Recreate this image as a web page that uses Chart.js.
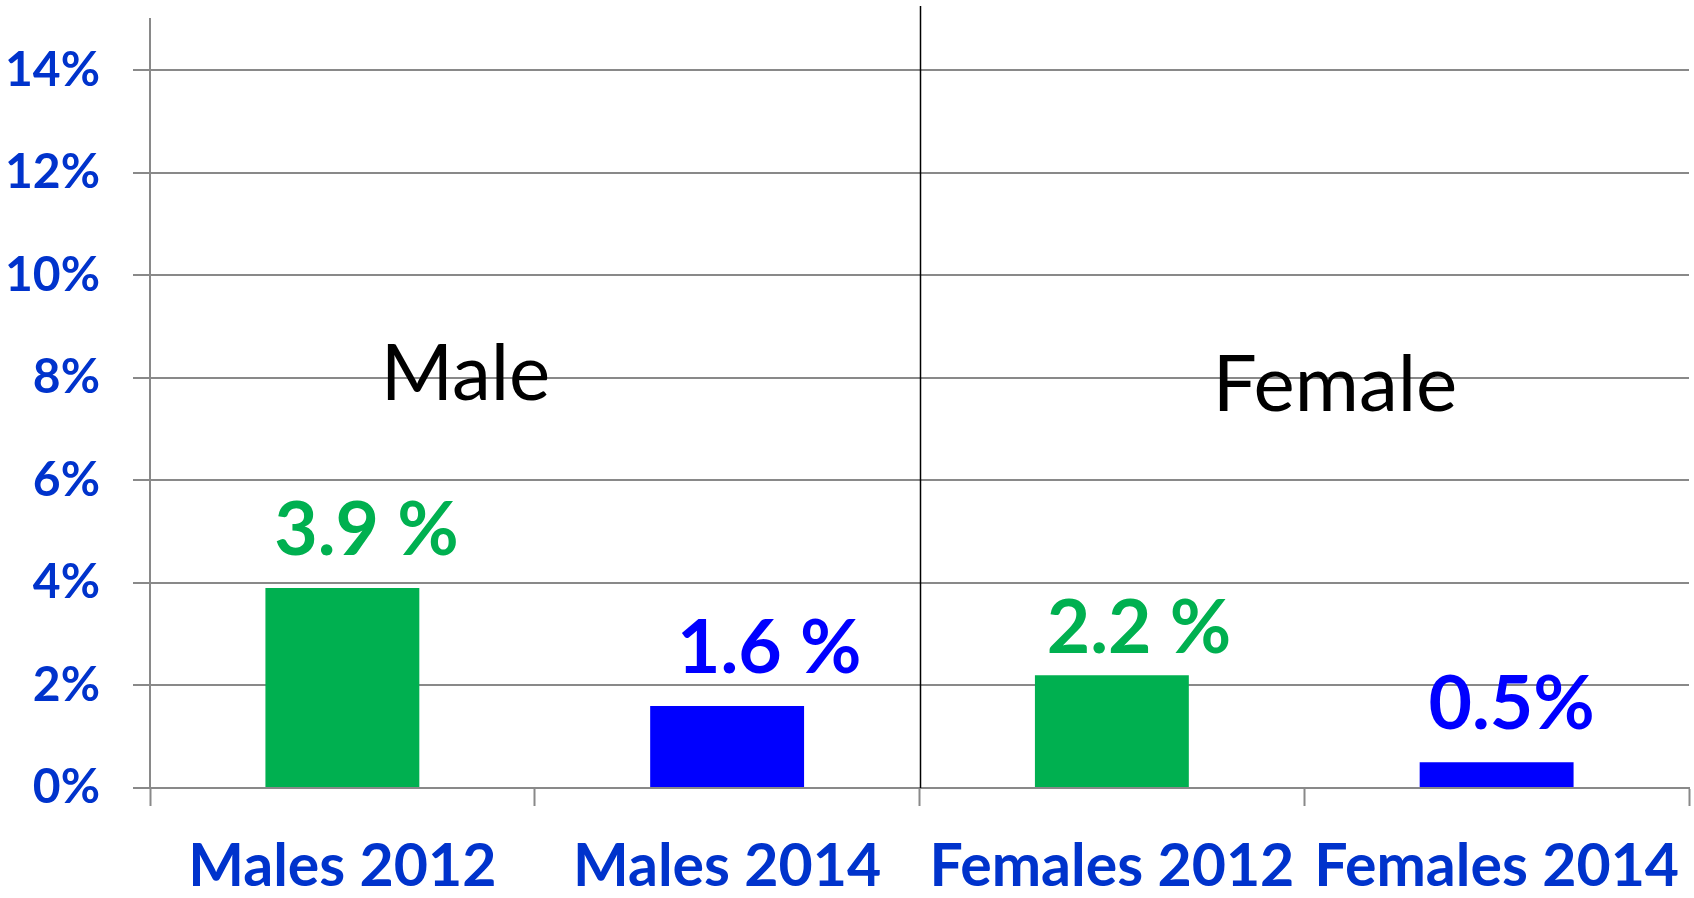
<!DOCTYPE html>
<html>
<head>
<meta charset="utf-8">
<title>Male / Female 2012 vs 2014</title>
<script src="https://cdn.jsdelivr.net/npm/chart.js@4.4.1/dist/chart.umd.min.js"></script>
<style>
  html, body { margin: 0; padding: 0; background: #fff; }
  canvas { display: block; }
</style>
</head>
<body>
<canvas id="group-chart" width="1694" height="898"></canvas>
<script>
const categories = ["Males 2012", "Males 2014", "Females 2012", "Females 2014"];
const values = [3.9, 1.6, 2.2, 0.5];
const valueLabels = ["3.9 %", "1.6 %", "2.2 %", "0.5%"];
const barColors = ["#00B050", "#0000FF", "#00B050", "#0000FF"];
const yTicks = [0, 2, 4, 6, 8, 10, 12, 14];
const groupNames = ["Male", "Female"];

const tickBlue = "#0033CC";
const gridGrey = "#898989";

// small nudges for the value labels, [dx, gap above bar]
const labelShift = [[24, 33], [42, 33], [27, 22], [15, 33]];
// where the group names sit, in data units [category index, value]
const groupSpots = [[0.32, 7.57], [2.58, 7.36]];

const extrasPlugin = {
  id: "extras",
  afterDatasetsDraw(chart) {
    const ctx = chart.ctx;
    const x = chart.scales.x;
    const y = chart.scales.y;
    const bars = chart.getDatasetMeta(0).data;

    ctx.save();

    // divider between the two groups
    const divX = (x.getPixelForValue(1) + x.getPixelForValue(2)) / 2;
    ctx.strokeStyle = "#000";
    ctx.lineWidth = 1.5;
    ctx.beginPath();
    ctx.moveTo(Math.round(divX) + 0.5, 6);
    ctx.lineTo(Math.round(divX) + 0.5, y.getPixelForValue(0));
    ctx.stroke();

    // value labels above bars
    ctx.font = "bold 75px Lato";
    ctx.textAlign = "center";
    ctx.textBaseline = "alphabetic";
    bars.forEach((bar, i) => {
      ctx.fillStyle = barColors[i];
      ctx.fillText(valueLabels[i], bar.x + labelShift[i][0], bar.y - labelShift[i][1]);
    });

    // group names
    ctx.font = "78px Lato";
    ctx.fillStyle = "#000";
    groupNames.forEach((name, i) => {
      const px = x.getPixelForValue(groupSpots[i][0]);
      const py = y.getPixelForValue(groupSpots[i][1]);
      ctx.fillText(name, px, py);
    });

    ctx.restore();
  }
};

const ctx = document.getElementById("group-chart").getContext("2d");

new Chart(ctx, {
  type: "bar",
  data: {
    labels: categories,
    datasets: [{
      data: values,
      backgroundColor: barColors,
      borderWidth: 0,
      barPercentage: 0.4,
      categoryPercentage: 1.0,
    }],
  },
  options: {
    responsive: false,
    animation: false,
    layout: { padding: { top: 19, right: 5, left: 4, bottom: 0 } },
    plugins: {
      legend: { display: false },
      tooltip: { enabled: false },
    },
    scales: {
      x: {
        grid: {
          offset: true,
          drawOnChartArea: false,
          drawTicks: true,
          tickLength: 18,
          tickColor: gridGrey,
          tickWidth: 2,
        },
        border: { display: true, color: gridGrey, width: 2 },
        ticks: {
          color: tickBlue,
          font: { family: "Lato", size: 59, weight: "bold" },
          padding: 26,
          maxRotation: 0,
          autoSkip: false,
        },
        afterFit(scale) {
          scale.height = 110;
          scale.paddingLeft = 0;
          scale.paddingRight = 0;
        },
      },
      y: {
        min: 0,
        max: 15,
        afterBuildTicks(scale) {
          scale.ticks = yTicks.map((v) => ({ value: v }));
        },
        grid: {
          color: gridGrey,
          lineWidth: 2,
          tickLength: 17,
          tickColor: gridGrey,
        },
        border: { display: true, color: gridGrey, width: 2 },
        ticks: {
          color: tickBlue,
          font: { family: "Lato", size: 48, weight: "bold" },
          padding: 33,
          callback: (v) => v + "%",
        },
        afterFit(scale) {
          scale.width = 146;
          scale.paddingTop = 0;
          scale.paddingBottom = 0;
        },
      },
    },
  },
  plugins: [extrasPlugin],
});
</script>
</body>
</html>
